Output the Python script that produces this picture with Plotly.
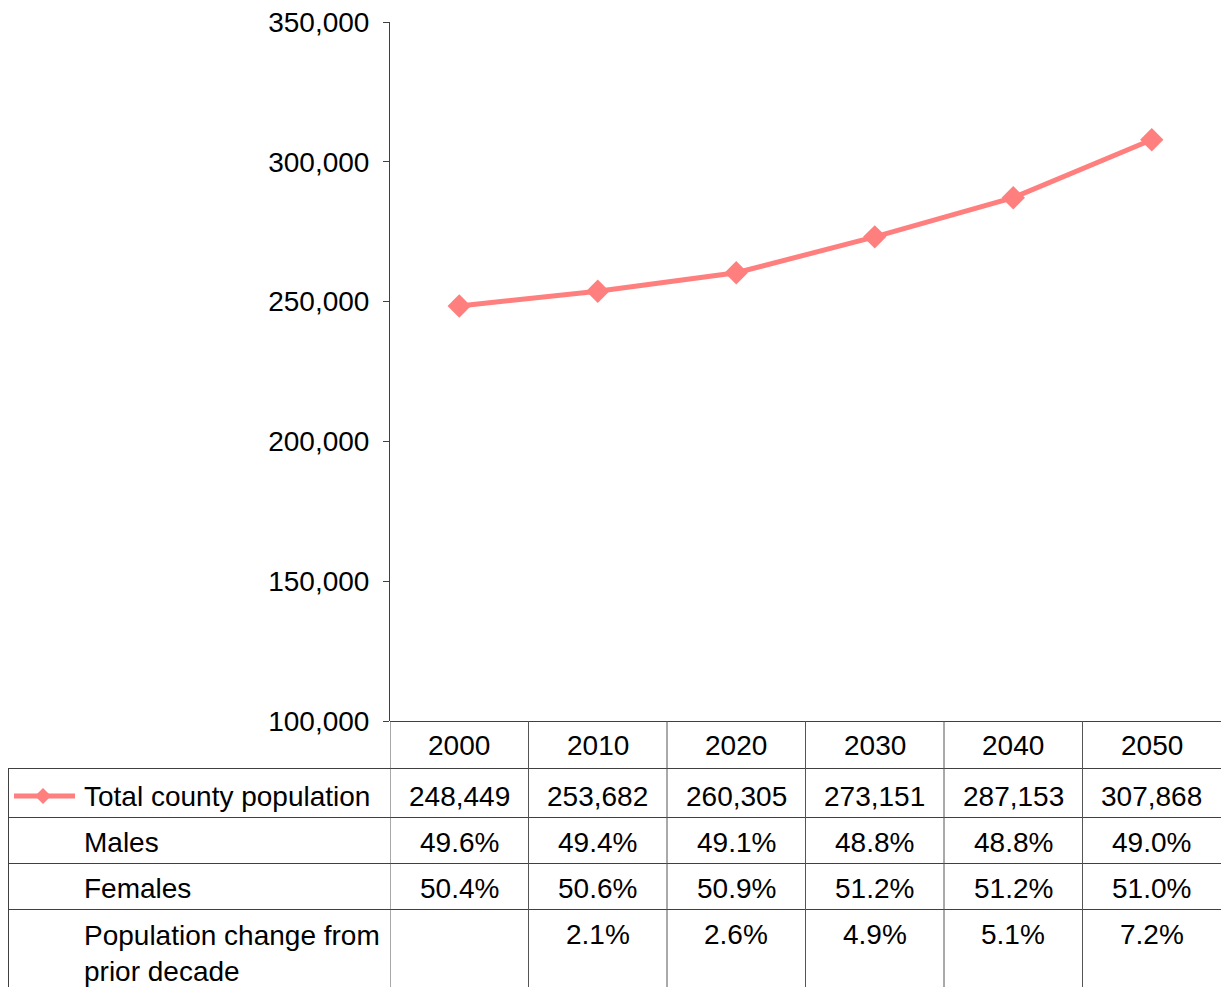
import plotly.graph_objects as go

years = ["2000", "2010", "2020", "2030", "2040", "2050"]
total_pop = [248449, 253682, 260305, 273151, 287153, 307868]
males = ["49.6%", "49.4%", "49.1%", "48.8%", "48.8%", "49.0%"]
females = ["50.4%", "50.6%", "50.9%", "51.2%", "51.2%", "51.0%"]
change = ["", "2.1%", "2.6%", "4.9%", "5.1%", "7.2%"]
row_labels = ["Total county population", "Males", "Females", "Population change from<br>prior decade"]

W, H = 1221, 987
FONT = "Liberation Sans, Arial, sans-serif"
FS = 28
LINE_COLOR = "#FF7F7F"
GRID = "#404040"


def px(x):
    return x / W


def py(y):
    return 1 - y / H


fig = go.Figure()
fig.add_trace(go.Scatter(
    x=years, y=total_pop, mode="lines+markers",
    line=dict(color=LINE_COLOR, width=5),
    marker=dict(symbol="diamond", size=18, color=LINE_COLOR),
    showlegend=False, hoverinfo="skip",
))

shapes = []
annotations = []

# table horizontal lines
shapes.append(dict(type="line", xref="paper", yref="paper", x0=px(390), x1=px(1221),
                   y0=py(721.5), y1=py(721.5), line=dict(color=GRID, width=1)))
for yy in [768.5, 817.5, 863.5, 909.5]:
    shapes.append(dict(type="line", xref="paper", yref="paper", x0=px(8), x1=px(1221),
                       y0=py(yy), y1=py(yy), line=dict(color=GRID, width=1)))
# left border
shapes.append(dict(type="line", xref="paper", yref="paper", x0=px(8.5), x1=px(8.5),
                   y0=py(768.5), y1=py(987), line=dict(color=GRID, width=1)))
# vertical column lines
for i in range(len(years)):
    shapes.append(dict(type="line", xref="x", yref="paper", x0=i - 0.5, x1=i - 0.5,
                       y0=py(721), y1=py(987), line=dict(color="#555555", width=1)))

# legend key
shapes.append(dict(type="line", xref="paper", yref="paper", x0=px(14), x1=px(75),
                   y0=py(796), y1=py(796), line=dict(color=LINE_COLOR, width=5)))
cx, cy, r = 43, 796, 8
shapes.append(dict(type="path", xref="paper", yref="paper",
                   path=f"M {px(cx - r)},{py(cy)} L {px(cx)},{py(cy - r)} L {px(cx + r)},{py(cy)} L {px(cx)},{py(cy + r)} Z",
                   fillcolor=LINE_COLOR, line=dict(width=0)))

font = dict(family=FONT, size=FS, color="black")

# header row (category axis: annotations use category index)
for i, yr in enumerate(years):
    annotations.append(dict(x=i, y=py(745), xref="x", yref="paper", text=yr, showarrow=False,
                            xanchor="center", yanchor="middle", font=font))

row_y = [796, 842, 888, 934]
rows = [[f"{v:,}" for v in total_pop], males, females, change]
for ry, vals in zip(row_y, rows):
    for i, v in enumerate(vals):
        if v:
            annotations.append(dict(x=i, y=py(ry), xref="x", yref="paper", text=v, showarrow=False,
                                    xanchor="center", yanchor="middle", font=font))

label_y = [796, 842, 888, 953]
for lbl, ly in zip(row_labels, label_y):
    annotations.append(dict(x=px(82), y=py(ly), xref="paper", yref="paper", text=lbl, showarrow=False,
                            xanchor="left", yanchor="middle", align="left", font=font))

fig.update_layout(
    width=W, height=H,
    margin=dict(l=0, r=0, t=0, b=0, pad=0),
    paper_bgcolor="white", plot_bgcolor="white",
    xaxis=dict(type="category", domain=[px(390), 1], range=[-0.5, 5.5], automargin=False,
               showticklabels=False, ticks="", showgrid=False, zeroline=False,
               showline=False, fixedrange=True),
    yaxis=dict(domain=[py(721), py(22)], range=[100000, 350000], dtick=50000, automargin=False,
               tickformat=",", showgrid=False, zeroline=False, showline=True,
               linecolor="#404040", linewidth=1, ticks="outside", ticklen=6,
               tickcolor="#404040", tickfont=font, ticklabelstandoff=8),
    shapes=shapes, annotations=annotations,
)

fig.write_html("out.html")
